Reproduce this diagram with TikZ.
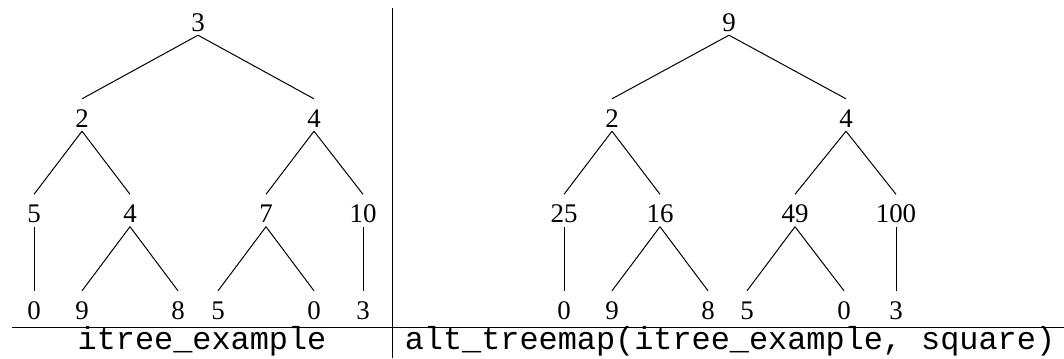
\documentclass[tikz,border=0pt]{standalone}
\usepackage{fontspec}
\setmainfont{Liberation Serif}
\setmonofont{Liberation Mono}
\begin{document}
\begin{tikzpicture}[x=1bp,y=-1bp,
  num/.style={font=\fontsize{27}{27}\selectfont, inner sep=0pt, text height=28bp, text depth=4bp, anchor=base},
  caption/.style={font=\ttfamily\fontsize{32}{32}\selectfont, inner sep=0pt, anchor=base},
  edge/.style={line width=1bp, black},
  rule/.style={line width=1bp, black}]
\useasboundingbox (0,0) rectangle (1064,358);
% left tree
\node[num] (la)  at (198,31) {3};
\node[num] (lb)  at (82,127) {2};
\node[num] (lc)  at (314,127) {4};
\node[num] (ld)  at (34,222.5) {5};
\node[num] (le)  at (130,222.5) {4};
\node[num] (lf)  at (266,222.5) {7};
\node[num] (lg)  at (363,222.5) {10};
\node[num] (lh)  at (34,319) {0};
\node[num] (li)  at (82,319) {9};
\node[num] (lj)  at (178,319) {8};
\node[num] (lk)  at (218,319) {5};
\node[num] (ll)  at (314,319) {0};
\node[num] (lm)  at (363,319) {3};
\draw[edge] (la.south) -- (lb.north);
\draw[edge] (la.south) -- (lc.north);
\draw[edge] (lb.south) -- (ld.north);
\draw[edge] (lb.south) -- (le.north);
\draw[edge] (lc.south) -- (lf.north);
\draw[edge] (lc.south) -- (lg.north);
\draw[edge] (ld.south) -- (lh.north);
\draw[edge] (le.south) -- (li.north);
\draw[edge] (le.south) -- (lj.north);
\draw[edge] (lf.south) -- (lk.north);
\draw[edge] (lf.south) -- (ll.north);
\draw[edge] (lg.south) -- (lm.north);
% right tree
\node[num] (ra)  at (729,31) {9};
\node[num] (rb)  at (612,127) {2};
\node[num] (rc)  at (846,127) {4};
\node[num] (rd)  at (564,222.5) {25};
\node[num] (re)  at (660,222.5) {16};
\node[num] (rf)  at (795,222.5) {49};
\node[num] (rg)  at (896,222.5) {100};
\node[num] (rh)  at (564,319) {0};
\node[num] (ri)  at (612,319) {9};
\node[num] (rj)  at (708,319) {8};
\node[num] (rk)  at (747,319) {5};
\node[num] (rl)  at (844,319) {0};
\node[num] (rm)  at (896,319) {3};
\draw[edge] (ra.south) -- (rb.north);
\draw[edge] (ra.south) -- (rc.north);
\draw[edge] (rb.south) -- (rd.north);
\draw[edge] (rb.south) -- (re.north);
\draw[edge] (rc.south) -- (rf.north);
\draw[edge] (rc.south) -- (rg.north);
\draw[edge] (rd.south) -- (rh.north);
\draw[edge] (re.south) -- (ri.north);
\draw[edge] (re.south) -- (rj.north);
\draw[edge] (rf.south) -- (rk.north);
\draw[edge] (rf.south) -- (rl.north);
\draw[edge] (rg.south) -- (rm.north);
% rules
\coordinate (hl) at (12,327);
\coordinate (hr) at (1064,327);
\coordinate (vt) at (392,8);
\coordinate (vb) at (392,358);
\draw[rule] (hl) -- (hr);
\draw[rule] (vt) -- (vb);
% captions
\node[caption] (capl) at (202,349.5) {itree\_example};
\node[caption] (capr) at (730,349.5) {alt\_treemap(itree\_example, square)};
\end{tikzpicture}
\end{document}
